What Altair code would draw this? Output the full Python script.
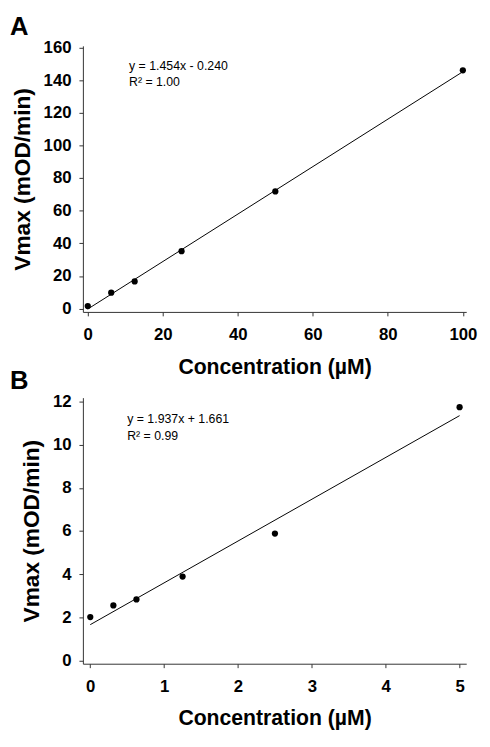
import altair as alt
import pandas as pd

# ---- Panel A data ----
conc_a = [0, 6.25, 12.5, 25, 50, 100]
vmax_a = [1.6, 9.8, 16.7, 35.2, 71.8, 146.0]
slope_a, icpt_a = 1.454, -0.240
fit_x_a = [0, 100]
eq_a = ["y = 1.454x - 0.240", "R² = 1.00"]
xticks_a = [0, 20, 40, 60, 80, 100]
yticks_a = [0, 20, 40, 60, 80, 100, 120, 140, 160]

# ---- Panel B data ----
conc_b = [0, 0.3125, 0.625, 1.25, 2.5, 5]
vmax_b = [2.01, 2.55, 2.83, 3.89, 5.88, 11.74]
slope_b, icpt_b = 1.937, 1.661
fit_x_b = [0, 5]
eq_b = ["y = 1.937x + 1.661", "R² = 0.99"]
xticks_b = [0, 1, 2, 3, 4, 5]
yticks_b = [0, 2, 4, 6, 8, 10, 12]

FONT = "Liberation Sans"


def panel(conc, vmax, fit_x, slope, icpt, eq, xdom, ydom, xticks, yticks,
          ann_x, ann_y, letter, w, h):
    pts = pd.DataFrame({"c": conc, "v": vmax})
    fit = pd.DataFrame({"c": fit_x, "v": [slope * x + icpt for x in fit_x]})
    ann = pd.DataFrame({"c": [ann_x, ann_x], "v": ann_y, "t": eq})
    x = alt.X("c:Q", scale=alt.Scale(domain=xdom, nice=False, zero=False),
              axis=alt.Axis(values=xticks, format="d", title="Concentration (µM)"))
    y = alt.Y("v:Q", scale=alt.Scale(domain=ydom, nice=False, zero=False),
              axis=alt.Axis(values=yticks, format="d", title="Vmax (mOD/min)"))
    line = alt.Chart(fit).mark_line(color="black", strokeWidth=1).encode(x=x, y=y)
    dots = alt.Chart(pts).mark_circle(color="black", size=40, opacity=1).encode(x=x, y=y)
    text = alt.Chart(ann).mark_text(align="left", baseline="alphabetic", fontSize=12.5,
                                    font=FONT, color="black").encode(x=x, y=y, text="t:N")
    return alt.layer(line, dots, text).properties(
        width=w, height=h,
        title=alt.TitleParams(letter, anchor="start", frame="group", dx=-74, offset=-1,
                              fontSize=26, fontWeight="bold", font=FONT, color="black"),
    )


a = panel(conc_a, vmax_a, fit_x_a, slope_a, icpt_a, eq_a, [-1.3, 100.9], [-2, 161],
          xticks_a, yticks_a, 11.0, [146.5, 136.6], "A", 389, 270)
b = panel(conc_b, vmax_b, fit_x_b, slope_b, icpt_b, eq_b, [-0.1, 5.09], [-0.15, 12.18],
          xticks_b, yticks_b, 0.5, [11.0, 10.24], "B", 389, 270)

chart = alt.vconcat(a, b, spacing=87, bounds="flush").properties(
    padding={"left": 2, "top": 0, "right": 5, "bottom": 5}
).configure_view(stroke=None).configure_axis(
    grid=False,
    labelFont=FONT, labelFontSize=17, labelFontWeight="bold", labelColor="black",
    titleFont=FONT, titleFontWeight="bold", titleColor="black",
    domainColor="#333333", domainWidth=1, tickColor="#333333", tickSize=4, tickWidth=1,
).configure_axisX(titlePadding=14, labelPadding=11, titleFontSize=21.5
).configure_axisY(titlePadding=9, labelPadding=8, titleFontSize=23)

chart.save("out.html", embed_options={"renderer": "svg", "actions": False})
